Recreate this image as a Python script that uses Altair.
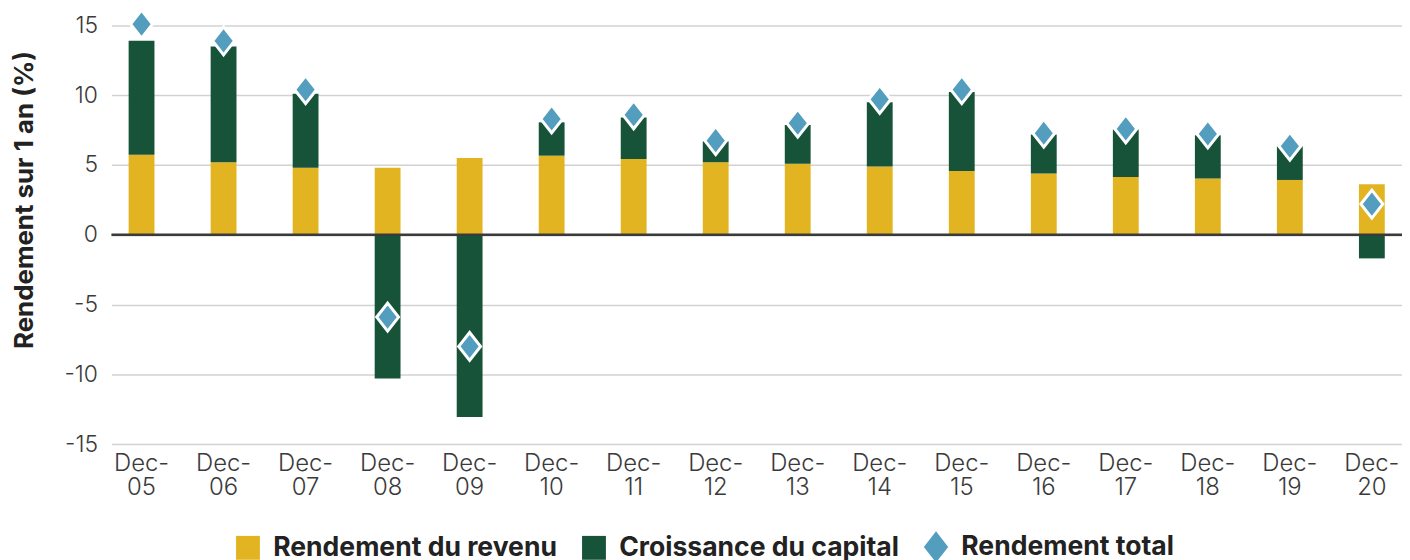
import altair as alt
import pandas as pd

dates = ["Dec-05", "Dec-06", "Dec-07", "Dec-08", "Dec-09", "Dec-10", "Dec-11", "Dec-12",
         "Dec-13", "Dec-14", "Dec-15", "Dec-16", "Dec-17", "Dec-18", "Dec-19", "Dec-20"]
income = [5.74, 5.2, 4.8, 4.8, 5.5, 5.67, 5.43, 5.2, 5.1, 4.9, 4.57, 4.39, 4.15, 4.03, 3.93, 3.63]
capital = [8.16, 8.3, 5.3, -10.3, -13.05, 2.39, 2.97, 1.5, 2.77, 4.6, 5.67, 2.79, 3.39, 3.1, 2.42, -1.69]
total = [15.1, 13.9, 10.4, -5.9, -8.0, 8.3, 8.6, 6.75, 8.0, 9.7, 10.4, 7.28, 7.59, 7.23, 6.35, 2.2]

series_names = ["Rendement du revenu", "Croissance du capital", "Rendement total"]
colors = ["#E3B422", "#175338", "#539DBF"]
y_ticks = [-15, -10, -5, 0, 5, 10, 15]
y_title = "Rendement sur 1 an (%)"

SQUARE = "M-1,-1H1V1H-1Z"
DIAMOND = "M0,-1.3L1.02,0L0,1.3L-1.02,0Z"

rows = []
for d, inc, cap in zip(dates, income, capital):
    rows.append({"date": d, "series": series_names[0], "value": inc, "ord": 0})
    rows.append({"date": d, "series": series_names[1], "value": cap, "ord": 1})
bars_df = pd.DataFrame(rows)
tot_df = pd.DataFrame({"date": dates, "series": [series_names[2]] * len(dates), "value": total})
zero_df = pd.DataFrame({"v": [0]})

FONT = "Inter"

x_enc = alt.X(
    "date:N", sort=dates, title=None,
    scale=alt.Scale(paddingInner=0.685, paddingOuter=0.21),
    axis=alt.Axis(
        domain=False, ticks=False, grid=False,
        labelAngle=0,
        labelExpr="[slice(datum.label, 0, 4), slice(datum.label, 4)]",
        labelFont=FONT, labelFontSize=24, labelFontWeight=300, labelColor="#3a3a3a",
        labelLineHeight=24, labelPadding=8,
    ),
)

y_axis = alt.Axis(
    values=y_ticks, domain=False, ticks=False,
    grid=True, gridColor="#d2d2d2", gridWidth=1.5,
    labelExpr="'' + datum.value",
    labelFont=FONT, labelFontSize=23, labelFontWeight=300, labelColor="#3a3a3a",
    labelPadding=14,
    titleFont=FONT, titleFontSize=26, titleFontWeight="bold", titleColor="#222222",
    titleAngle=270, titleX=-79, titleY=175, titleAlign="center", titleBaseline="alphabetic",
)
y_scale = alt.Scale(domain=[-15, 15], nice=False, zero=False)

legend_def = alt.Legend(title=None)
color_enc = alt.Color("series:N", scale=alt.Scale(domain=series_names, range=colors), legend=legend_def)
shape_enc = alt.Shape("series:N", scale=alt.Scale(domain=series_names, range=[SQUARE, SQUARE, DIAMOND]),
                      legend=legend_def)

bars = alt.Chart(bars_df).mark_bar().encode(
    x=x_enc,
    y=alt.Y("value:Q", stack="zero", scale=y_scale, axis=y_axis, title=y_title),
    color=color_enc,
    order=alt.Order("ord:Q"),
)

zero = alt.Chart(zero_df).mark_rule(color="#3a3a3a", strokeWidth=2.5).encode(
    y=alt.Y("v:Q", scale=y_scale, axis=y_axis, title=y_title)
)

points = alt.Chart(tot_df).mark_point(
    filled=True, size=466, stroke="white", strokeWidth=3, opacity=1, strokeOpacity=1
).encode(
    x=x_enc,
    y=alt.Y("value:Q", scale=y_scale, axis=y_axis, title=y_title),
    color=color_enc,
    shape=shape_enc,
)

chart = alt.layer(bars, zero, points).properties(
    width=1298, height=421,
    padding={"left": 104, "top": 16, "right": 0, "bottom": 121},
    autosize=alt.AutoSizeParams(type="none"),
).configure_view(stroke=None).configure_legend(
    orient="none", legendX=124, legendY=511, direction="horizontal",
    symbolSize=576, symbolStrokeWidth=0, symbolOpacity=1,
    labelFont=FONT, labelFontSize=26.7, labelFontWeight="bold", labelColor="#222222",
    labelOffset=12, columnPadding=23, padding=0, labelLimit=600,
)

chart.save("out.html", embed_options={"renderer": "svg", "actions": False})
